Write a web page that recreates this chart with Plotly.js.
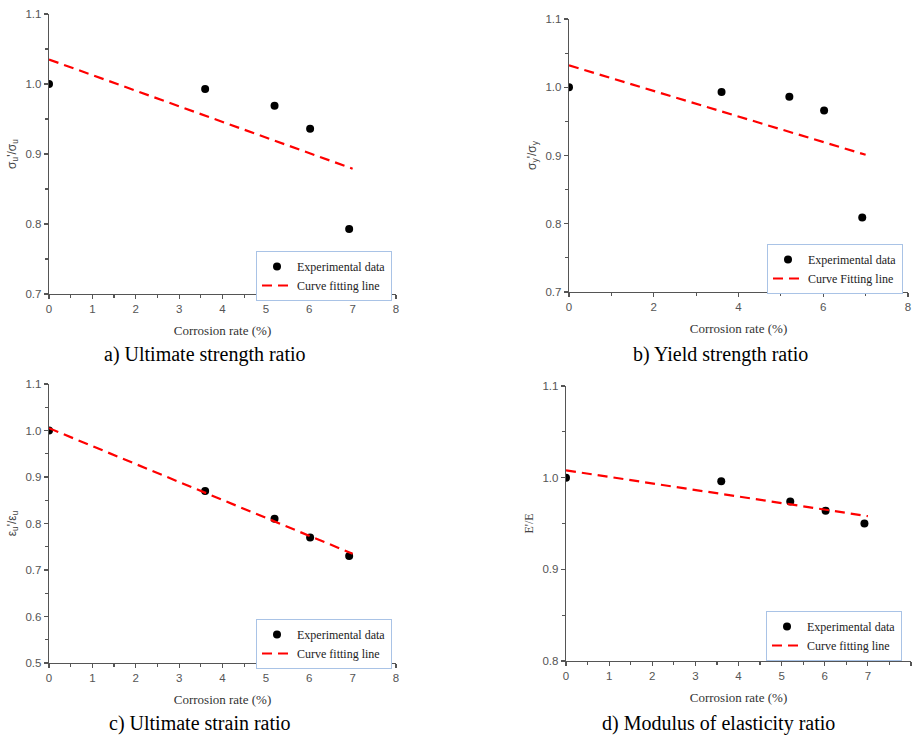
<!DOCTYPE html>
<html>
<head>
<meta charset="utf-8">
<script src="https://cdn.plot.ly/plotly-3.0.1.min.js"></script>
<style>html,body{margin:0;padding:0;background:#fff;}#chart{width:912px;height:737px;}</style>
</head>
<body>
<div id="chart"></div>
<script>
// Corrosion rate (%) of the specimens
const corrosionRate = [0, 3.6, 5.2, 6.02, 6.92];
// Experimental ratios
const ultimateStrength = [1.0, 0.993, 0.969, 0.936, 0.793];
const yieldStrength = [1.0, 0.993, 0.986, 0.966, 0.809];
const ultimateStrain = [1.0, 0.87, 0.81, 0.77, 0.73];
const elasticModulus = [1.0, 0.996, 0.974, 0.964, 0.95];
// Fitted lines (end points)
const fitX = [0, 7];
const fitUltimateStrength = [1.035, 0.879];
const fitYieldStrength = [1.032, 0.901];
const fitUltimateStrain = [1.005, 0.735];
const fitElasticModulus = [1.008, 0.958];
// Labels
const captions = ["a) Ultimate strength ratio", "b) Yield strength ratio", "c) Ultimate strain ratio", "d) Modulus of elasticity ratio"];
const yTitles = ["σ<sub>u</sub>'/σ<sub>u</sub>", "σ<sub>y</sub>'/σ<sub>y</sub>", "ε<sub>u</sub>'/ε<sub>u</sub>", "E'/E"];
const xTitle = "Corrosion rate (%)";
const expName = "Experimental data";
const fitNames = ["Curve fitting line", "Curve Fitting line", "Curve fitting line", "Curve fitting line"];

const W = 912, H = 737;
const px = v => v / W;
const py = v => 1 - v / H;

const panels = [
  {y: ultimateStrength, fit: fitUltimateStrength, xd: [49, 396], yd: [294, 14], yr: [0.7, 1.1], xdt: 1, xminor: 0.5, leg: [256, 251]},
  {y: yieldStrength, fit: fitYieldStrength, xd: [569, 908], yd: [292, 19], yr: [0.7, 1.1], xdt: 2, xminor: 1, leg: [767, 244]},
  {y: ultimateStrain, fit: fitUltimateStrain, xd: [49, 396], yd: [663, 384], yr: [0.5, 1.1], xdt: 1, xminor: 0.5, leg: [256, 619]},
  {y: elasticModulus, fit: fitElasticModulus, xd: [566, 911], yd: [661, 386], yr: [0.8, 1.1], xdt: 1, xminor: 0.5, leg: [766, 611]}
];

const axisColor = '#555';
const data = [];
const layout = {
  width: W, height: H,
  margin: {l: 0, r: 0, t: 0, b: 0},
  paper_bgcolor: '#fff', plot_bgcolor: '#fff',
  showlegend: true,
  annotations: []
};

const captionPos = [[205, 355], [720, 355], [200, 723], [718, 723]];

panels.forEach((p, i) => {
  const n = i + 1;
  const xa = n === 1 ? 'x' : 'x' + n;
  const ya = n === 1 ? 'y' : 'y' + n;
  const lg = n === 1 ? 'legend' : 'legend' + n;
  data.push({
    x: corrosionRate, y: p.y, xaxis: xa, yaxis: ya, type: 'scatter', mode: 'markers',
    name: expName, legend: lg,
    marker: {color: '#000', size: 8}
  });
  data.push({
    x: fitX, y: p.fit, xaxis: xa, yaxis: ya, type: 'scatter', mode: 'lines',
    name: fitNames[i], legend: lg,
    line: {color: '#f00', width: 2.2, dash: '10px,6px'}
  });
  const axCommon = {
    showgrid: false, zeroline: false, showline: true, linecolor: axisColor, linewidth: 1.3,
    ticks: 'outside', ticklen: 4, tickwidth: 1.2, tickcolor: axisColor,
    tickfont: {family: 'Liberation Sans, Arial', size: 11.5, color: '#555'}
  };
  layout['xaxis' + (n === 1 ? '' : n)] = Object.assign({}, axCommon, {
    domain: [px(p.xd[0]), px(p.xd[1])], anchor: ya, range: [0, 8], dtick: p.xdt, tick0: 0,
    minor: {dtick: p.xminor, ticks: 'outside', ticklen: 2.5, tickcolor: axisColor, showgrid: false},
    title: {text: xTitle, font: {family: 'Liberation Serif, Times New Roman', size: 13, color: '#333'}, standoff: 11}
  });
  layout['yaxis' + (n === 1 ? '' : n)] = Object.assign({}, axCommon, {
    domain: [py(p.yd[0]), py(p.yd[1])], anchor: xa, range: p.yr, dtick: 0.1, tick0: 0, tickformat: '.1f',
    minor: {dtick: 0.05, ticks: 'outside', ticklen: 2.5, tickcolor: axisColor, showgrid: false},
    title: {text: yTitles[i], font: {family: n === 4 ? 'Liberation Serif, Times New Roman' : 'Liberation Sans, Arial', size: 12, color: '#444'}, standoff: 6}
  });
  layout[lg] = {
    x: px(p.leg[0]), y: py(p.leg[1]), xanchor: 'left', yanchor: 'top', xref: 'paper', yref: 'paper',
    bgcolor: '#fff', bordercolor: '#a9c3e6', borderwidth: 1,
    font: {family: 'Liberation Serif, Times New Roman', size: 12, color: '#222'},
    itemwidth: 30, tracegroupgap: 0
  };
  layout.annotations.push({
    text: captions[i], x: px(captionPos[i][0]), y: py(captionPos[i][1]), xref: 'paper', yref: 'paper',
    xanchor: 'center', yanchor: 'middle', showarrow: false,
    font: {family: 'Liberation Serif, Times New Roman', size: 20, color: '#000'}
  });
});

Plotly.newPlot('chart', data, layout, {displayModeBar: false, staticPlot: true});
</script>
</body>
</html>
